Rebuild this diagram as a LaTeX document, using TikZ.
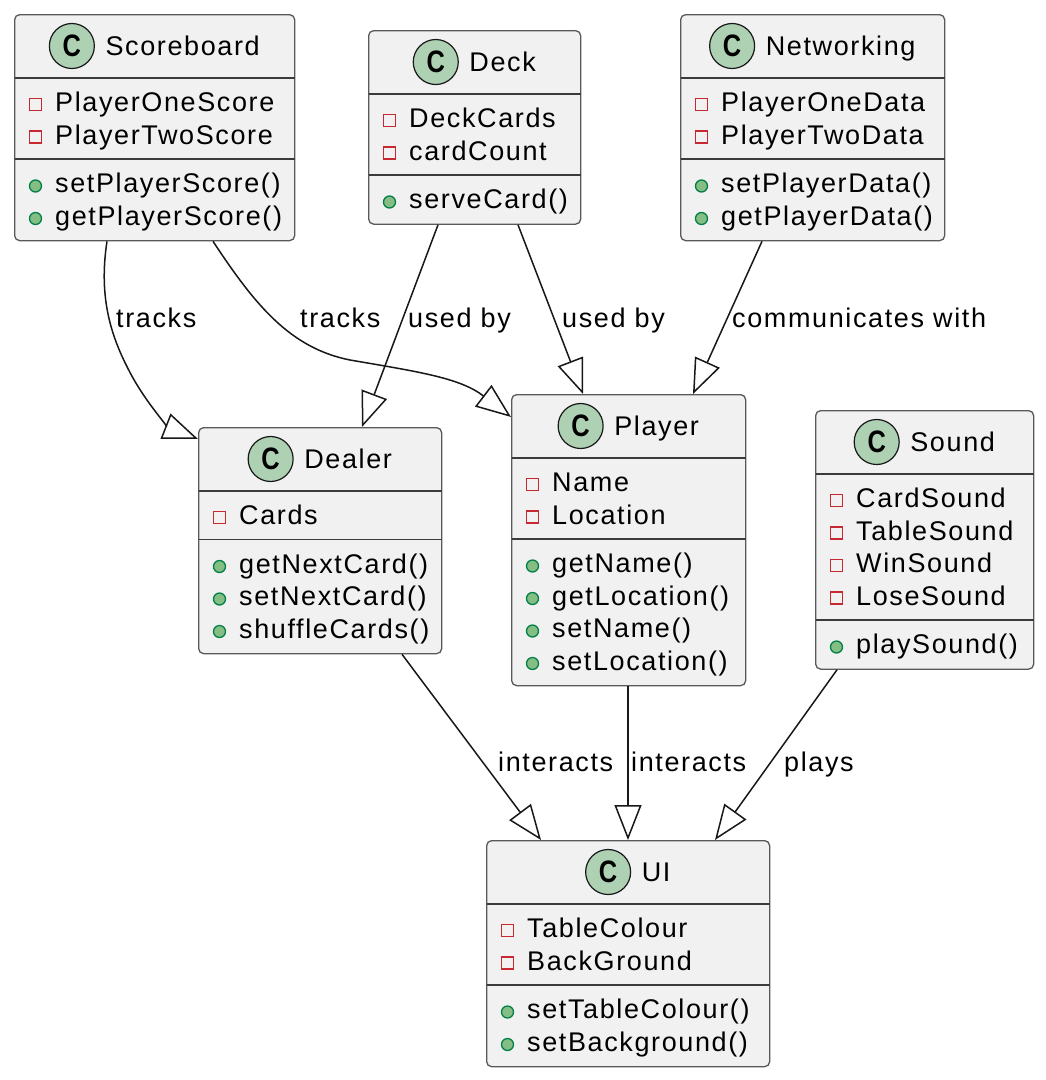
\documentclass[tikz,border=0pt]{standalone}
\usepackage{fontspec}
\setmainfont{Liberation Sans}[LetterSpace=6]
\newfontfamily\cfont{Liberation Sans}[FakeStretch=0.82]
\usetikzlibrary{arrows.meta,calc}

\definecolor{boxfill}{HTML}{F1F1F1}
\definecolor{boxline}{HTML}{181818}
\definecolor{cgreen}{HTML}{ADD1B2}
\definecolor{privred}{HTML}{C82930}
\definecolor{pubfill}{HTML}{84BE84}
\definecolor{publine}{HTML}{038048}

\tikzset{
  cbox/.style={draw=black!65, line width=1.3pt, fill=boxfill, rounded corners=5pt, inner sep=0pt},
  ctext/.style={inner sep=0pt, font=\fontsize{27}{32}\selectfont, text=black},
  cicon/.style={circle, draw=boxline, fill=cgreen, line width=1.2pt, minimum size=45pt, inner sep=0pt,
                font=\cfont\bfseries\fontsize{31}{31}\selectfont},
  sepline/.style={draw=boxline!85, line width=1.1pt},
  privmark/.style={draw=privred, line width=1.4pt},
  pubmark/.style={draw=publine, fill=pubfill, line width=1.3pt},
  rel/.style={draw=boxline, line width=1.5pt, -{Triangle[open, length=35pt, width=27pt, line width=1.5pt]}},
  lbl/.style={ctext, anchor=base west}
}

% #1 name, #2 left, #3 top, #4 width, #5 height, #6 title
\newcommand\umlbox[6]{%
  \node[cbox, minimum width=#4pt, minimum height=#5pt, anchor=north west] (#1) at (#2,#3) {};
  \node[ctext, anchor=base] (#1-t) at ($(#1.north)+(28,41)$) {#6};
  \node[cicon] (#1-c) at ([xshift=-33.5pt,yshift=9pt]#1-t.base west) {C};
  \draw[sepline] ($(#1.north west)+(0.7,64)$) -- ($(#1.north east)+(-0.7,64)$);
}
\newcommand\sepat[2]{%
  \draw[sepline] ($(#1.north west)+(0.7,#2)$) -- ($(#1.north east)+(-0.7,#2)$);
}
% #1 box, #2 suffix, #3 baseline offset, #4 text
\newcommand\attr[4]{%
  \draw[privmark] ($(#1.north west)+(15.5,#3-13)$) rectangle ($(#1.north west)+(27.5,#3-1)$);
  \node[ctext, anchor=base west] (#1-#2) at ($(#1.north west)+(41,#3)$) {#4};
}
\newcommand\meth[4]{%
  \draw[pubmark] ($(#1.north west)+(21.5,#3-6.5)$) circle[radius=6pt];
  \node[ctext, anchor=base west] (#1-#2) at ($(#1.north west)+(41,#3)$) {#4};
}

\begin{document}
\begin{tikzpicture}[x=1pt,y=-1pt]
\fill[white] (0,0) rectangle (1046,1080);
\useasboundingbox (0,0) rectangle (1046,1080);

% Scoreboard
\umlbox{score}{14}{14}{280}{226}{Scoreboard}
\attr{score}{a1}{97.5}{PlayerOneScore}
\attr{score}{a2}{130}{PlayerTwoScore}
\sepat{score}{145}
\meth{score}{m1}{178.5}{setPlayerScore()}
\meth{score}{m2}{211}{getPlayerScore()}

% Deck
\umlbox{deck}{368}{30}{212}{193.5}{Deck}
\attr{deck}{a1}{97.5}{DeckCards}
\attr{deck}{a2}{130}{cardCount}
\sepat{deck}{145}
\meth{deck}{m1}{178.5}{serveCard()}

% Networking
\umlbox{net}{680}{14}{264}{226}{Networking}
\attr{net}{a1}{97.5}{PlayerOneData}
\attr{net}{a2}{130}{PlayerTwoData}
\sepat{net}{145}
\meth{net}{m1}{178.5}{setPlayerData()}
\meth{net}{m2}{211}{getPlayerData()}

% Dealer
\umlbox{dealer}{198}{427}{243}{226}{Dealer}
\attr{dealer}{a1}{97.5}{Cards}
\sepat{dealer}{112.5}
\meth{dealer}{m1}{146}{getNextCard()}
\meth{dealer}{m2}{178.5}{setNextCard()}
\meth{dealer}{m3}{211}{shuffleCards()}

% Player
\umlbox{player}{511}{394}{234}{291}{Player}
\attr{player}{a1}{97.5}{Name}
\attr{player}{a2}{130}{Location}
\sepat{player}{145}
\meth{player}{m1}{178.5}{getName()}
\meth{player}{m2}{211}{getLocation()}
\meth{player}{m3}{243.5}{setName()}
\meth{player}{m4}{276}{setLocation()}

% Sound
\umlbox{sound}{815}{410}{218}{258.5}{Sound}
\attr{sound}{a1}{97.5}{CardSound}
\attr{sound}{a2}{130}{TableSound}
\attr{sound}{a3}{162.5}{WinSound}
\attr{sound}{a4}{195}{LoseSound}
\sepat{sound}{210}
\meth{sound}{m1}{243.5}{playSound()}

% UI
\umlbox{ui}{486}{840}{283}{226}{UI}
\attr{ui}{a1}{97.5}{TableColour}
\attr{ui}{a2}{130}{BackGround}
\sepat{ui}{145}
\meth{ui}{m1}{178.5}{setTableColour()}
\meth{ui}{m2}{211}{setBackground()}

% connectors
\draw[rel] ([xshift=93pt]score.south west) .. controls (98,300) and (112,340) .. (133,378)
  .. controls (150,408) and (170,428) .. ([yshift=-12pt]dealer.north west);
\draw[rel] ([xshift=199pt]score.south west) .. controls (255,305) and (290,348) .. (350,360)
  .. controls (420,372) and (460,378) .. ([yshift=-23pt]player.north west);
\draw[rel] ([xshift=70pt]deck.south west) -- ([xshift=164pt]dealer.north west);
\draw[rel] ([xshift=150pt]deck.south west) -- ([xshift=72pt]player.north west);
\draw[rel] ([xshift=82pt]net.south west) -- ([xshift=182pt]player.north west);
\draw[rel] ([xshift=204pt]dealer.south west) -- ([xshift=55pt]ui.north west);
\draw[rel] ([xshift=117pt]player.south west) -- ([xshift=142pt]ui.north west);
\draw[rel] ([xshift=22pt]sound.south west) -- ([xshift=229pt]ui.north west);

% labels
\node[lbl] (l1) at (116,327) {tracks};
\node[lbl] (l2) at (300,327) {tracks};
\node[lbl] (l3) at (408,327) {used by};
\node[lbl] (l4) at (562,327) {used by};
\node[lbl] (l5) at (732,327) {communicates with};
\node[lbl] (l6) at (498,771) {interacts};
\node[lbl] (l7) at (631,771) {interacts};
\node[lbl] (l8) at (784,771) {plays};
\end{tikzpicture}
\end{document}
